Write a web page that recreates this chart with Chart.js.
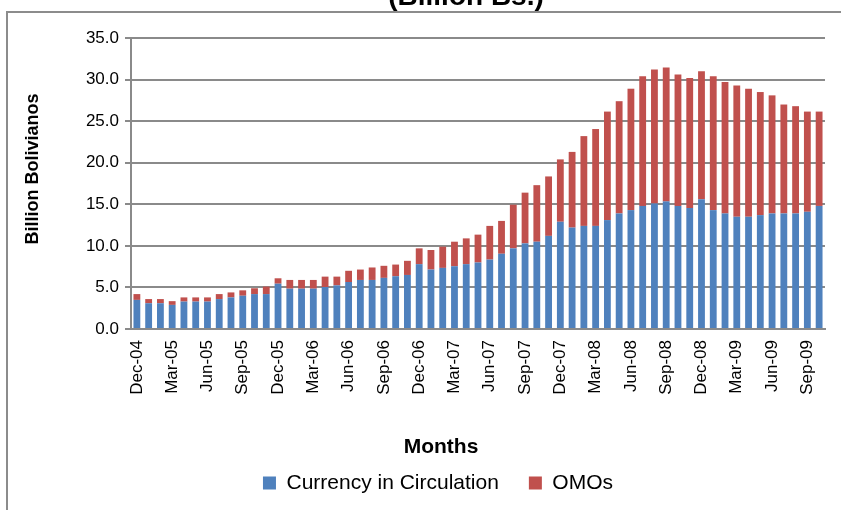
<!DOCTYPE html>
<html><head><meta charset="utf-8">
<script src="https://cdn.jsdelivr.net/npm/chart.js@4.4.1/dist/chart.umd.min.js"></script>
<style>html,body{margin:0;padding:0;background:#fff}#wrap{width:841px;height:510px;position:relative}</style>
</head><body><div id="wrap"><canvas id="c" width="841" height="510"></canvas></div>
<script>
const categories = ["Dec-04","Jan-05","Feb-05","Mar-05","Apr-05","May-05","Jun-05","Jul-05","Aug-05","Sep-05","Oct-05","Nov-05",
"Dec-05","Jan-06","Feb-06","Mar-06","Apr-06","May-06","Jun-06","Jul-06","Aug-06","Sep-06","Oct-06","Nov-06",
"Dec-06","Jan-07","Feb-07","Mar-07","Apr-07","May-07","Jun-07","Jul-07","Aug-07","Sep-07","Oct-07","Nov-07",
"Dec-07","Jan-08","Feb-08","Mar-08","Apr-08","May-08","Jun-08","Jul-08","Aug-08","Sep-08","Oct-08","Nov-08",
"Dec-08","Jan-09","Feb-09","Mar-09","Apr-09","May-09","Jun-09","Jul-09","Aug-09","Sep-09","Oct-09"];
const currencyInCirculation = [3.5,3.1,3.1,2.9,3.3,3.3,3.3,3.6,3.8,4.0,4.2,4.2,
5.45,4.85,4.85,4.85,5.05,5.25,5.65,5.9,5.9,6.15,6.35,6.5,
7.8,7.15,7.35,7.55,7.8,8.0,8.35,9.05,9.7,10.3,10.5,11.2,
12.9,12.2,12.4,12.4,13.1,13.9,14.3,14.8,15.1,15.35,14.8,14.55,
15.6,14.3,13.9,13.5,13.5,13.7,13.9,13.9,13.9,14.1,14.8];
const omos = [0.7,0.5,0.5,0.45,0.5,0.5,0.5,0.6,0.6,0.65,0.7,0.9,
0.65,1.05,1.05,1.05,1.25,1.05,1.35,1.25,1.5,1.45,1.4,1.7,
1.9,2.35,2.55,2.95,3.1,3.35,4.05,3.95,5.25,6.1,6.8,7.15,
7.5,9.1,10.8,11.65,13.05,13.5,14.6,15.6,16.1,16.1,15.8,15.65,
15.4,16.1,15.8,15.8,15.4,14.8,14.2,13.1,12.9,12.05,11.35];
const yTicks = [0,5,10,15,20,25,30,35];
const titleText = "(Billion Bs.)";
const xTitle = "Months";
const yTitle = "Billion Bolivianos";

const FONT = "'Liberation Sans', Arial, sans-serif";
const GRID = '#8a8a8a';

const framePlugin = {
  id: 'frame',
  beforeDraw(chart) {
    const ctx = chart.ctx;
    ctx.save();
    ctx.fillStyle = '#fff';
    ctx.fillRect(0, 0, chart.width, chart.height);
    ctx.strokeStyle = '#8c8c8c';
    ctx.lineWidth = 2;
    ctx.beginPath();
    ctx.moveTo(chart.width + 2, 12);
    ctx.lineTo(7, 12);
    ctx.lineTo(7, chart.height + 2);
    ctx.stroke();
    ctx.restore();
  },
  afterDraw(chart) {
    const ctx = chart.ctx;
    ctx.save();
    ctx.fillStyle = '#000';
    ctx.textAlign = 'center';
    ctx.textBaseline = 'alphabetic';
    ctx.font = "bold 28px " + FONT;
    ctx.fillText(titleText, 466, 5);
    ctx.textBaseline = 'middle';
    ctx.font = "bold 21px " + FONT;
    ctx.fillText(xTitle, 441, 447);
    ctx.translate(33, 169);
    ctx.rotate(-Math.PI / 2);
    ctx.font = "bold 18px " + FONT;
    ctx.fillText(yTitle, 0, 0);
    ctx.restore();
  }
};

new Chart(document.getElementById('c'), {
  type: 'bar',
  data: {
    labels: categories,
    datasets: [
      { label: 'Currency in Circulation', data: currencyInCirculation, backgroundColor: '#4F81BD', borderWidth: 0 },
      { label: 'OMOs', data: omos, backgroundColor: '#C0504D', borderWidth: 0 }
    ]
  },
  options: {
    responsive: false,
    animation: false,
    devicePixelRatio: 1,
    layout: { padding: { top: 38, right: 16, bottom: 6.5, left: 51 } },
    datasets: { bar: { barPercentage: 0.58, categoryPercentage: 1.0 } },
    plugins: {
      title: { display: false },
      tooltip: { enabled: false },
      legend: {
        position: 'bottom',
        labels: { color: '#000', font: { family: FONT, size: 21 }, boxWidth: 13, boxHeight: 13, padding: 30 }
      }
    },
    scales: {
      x: {
        stacked: true,
        grid: { display: false, drawTicks: false },
        border: { display: true, color: GRID, width: 2 },
        ticks: {
          autoSkip: false, minRotation: 90, maxRotation: 90, padding: 11, color: '#000',
          font: { family: FONT, size: 17 },
          callback: (v, i) => (i % 3 === 0 ? categories[i] : '')
        },
        title: { display: false },
        afterFit: (s) => { s.height = 442.5 - 329; s.paddingLeft = 0; s.paddingRight = 0; }
      },
      y: {
        stacked: true,
        min: 0, max: 35,
        afterBuildTicks: (s) => { s.ticks = yTicks.map(v => ({ value: v })); },
        grid: { color: GRID, lineWidth: 2, tickLength: 6, drawTicks: true },
        border: { display: true, color: GRID, width: 2 },
        ticks: { color: '#000', padding: 6, font: { family: FONT, size: 17 }, callback: (v) => Number(v).toFixed(1) },
        title: { display: false },
        afterFit: (s) => { s.width = 80; s.paddingTop = 0; s.paddingBottom = 0; }
      }
    }
  },
  plugins: [framePlugin]
});
</script>
</body></html>
